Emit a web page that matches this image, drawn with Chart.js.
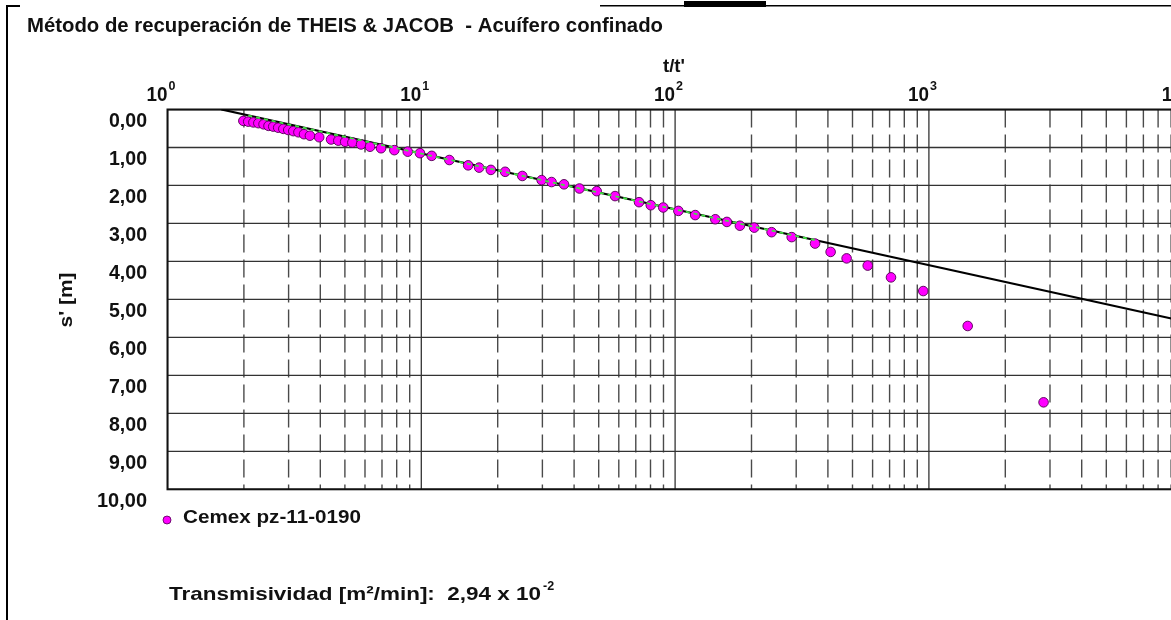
<!DOCTYPE html>
<html><head><meta charset="utf-8">
<script src="https://cdn.jsdelivr.net/npm/chart.js@4.4.1/dist/chart.umd.min.js"></script>
<style>
html,body{margin:0;padding:0;background:#fff;overflow:hidden;width:1171px;height:620px}
#wrap{position:absolute;left:0;top:0;width:1200px;height:620px}
</style></head>
<body><div id="wrap"><canvas id="c" width="1200" height="620"></canvas></div>
<script>
const chartTitle = "Método de recuperación de THEIS & JACOB  - Acuífero confinado";
const xAxisTitle = "t/t'";
const yAxisTitle = "s' [m]";
const seriesName = "Cemex pz-11-0190";
const transLabel = "Transmisividad [m²/min]:  2,94 x 10";
const transExp = "-2";

// observed recovery data
const tRatio = [1.99,2.08,2.18,2.28,2.39,2.50,2.61,2.73,2.86,2.99,3.13,3.28,3.45,3.64,3.96,4.41,4.71,5.01,5.35,5.79,6.28,6.94,7.83,8.84,9.88,10.99,12.9,15.3,16.9,18.8,21.4,25.0,29.8,32.6,36.5,42.0,49.1,58.0,72.1,80.2,89.8,103,120,144,160,180,205,240,288,356,410,474,574,709,950,1422,2830];
const drawdown = [0.30,0.32,0.34,0.36,0.39,0.43,0.45,0.48,0.51,0.54,0.57,0.60,0.65,0.69,0.73,0.79,0.82,0.85,0.87,0.92,0.98,1.02,1.07,1.11,1.15,1.22,1.33,1.47,1.53,1.59,1.64,1.75,1.86,1.91,1.97,2.08,2.15,2.28,2.44,2.52,2.58,2.67,2.78,2.89,2.96,3.06,3.11,3.23,3.36,3.53,3.75,3.92,4.11,4.42,4.78,5.70,7.71];

// straight-line fit (Jacob) and fitted range
const fitT = [1.63, 10000];
const fitS = [0, 5.57];
const fitRangeT = [2.08, 356];
const fitRangeS = [0.16, 3.44];

// axes
const xDecades = [1, 10, 100, 1000, 10000];
const xDecadeExp = ['0', '1', '2', '3', '4'];
const minorMultipliers = [2, 3, 4, 5, 6, 7, 8, 9];
const yTicks = [0,1,2,3,4,5,6,7,8,9,10];
const yTickLabels = ['0,00','1,00','2,00','3,00','4,00','5,00','6,00','7,00','8,00','9,00','10,00'];

const FONT = '"Liberation Sans", Arial, sans-serif';
function drawText(ctx, txt, x, y, size, targetW, align) {
  ctx.font = 'bold ' + size + 'px ' + FONT;
  const w = ctx.measureText(txt).width;
  const sx = targetW ? targetW / w : 1;
  ctx.save();
  ctx.translate(x, y);
  ctx.scale(sx, 1);
  ctx.textAlign = align || 'left';
  ctx.textBaseline = 'middle';
  ctx.fillStyle = '#111';
  ctx.fillText(txt, 0, 0);
  ctx.restore();
}

const gridPlugin = {
  id: 'gridPlugin',
  beforeDatasetsDraw(chart) {
    const {ctx, chartArea: a, scales: {x, y}} = chart;
    ctx.save();
    ctx.beginPath(); ctx.rect(a.left, a.top, a.right - a.left, a.bottom - a.top); ctx.clip();
    // minor dashed verticals
    ctx.strokeStyle = '#4a4a4a'; ctx.lineWidth = 1.4;
    ctx.setLineDash([18, 7]); ctx.lineDashOffset = 0;
    xDecades.slice(0, -1).forEach(d => {
      minorMultipliers.forEach(m => {
        const px = x.getPixelForValue(d * m);
        ctx.beginPath(); ctx.moveTo(px, a.top); ctx.lineTo(px, a.bottom); ctx.stroke();
      });
    });
    ctx.setLineDash([]);
    // horizontal lines
    ctx.strokeStyle = '#333'; ctx.lineWidth = 1.3;
    yTicks.forEach(v => {
      const py = y.getPixelForValue(v);
      ctx.beginPath(); ctx.moveTo(a.left, py); ctx.lineTo(a.right, py); ctx.stroke();
    });
    // decade verticals
    ctx.strokeStyle = '#333'; ctx.lineWidth = 1.3;
    xDecades.forEach(d => {
      const px = x.getPixelForValue(d);
      ctx.beginPath(); ctx.moveTo(px, a.top); ctx.lineTo(px, a.bottom); ctx.stroke();
    });
    ctx.restore();
    // border
    ctx.save();
    ctx.strokeStyle = '#111'; ctx.lineWidth = 2;
    ctx.strokeRect(a.left, a.top, a.right - a.left, a.bottom - a.top);
    ctx.restore();
  },
  afterDraw(chart) {
    const {ctx, scales: {x, y}} = chart;
    // page frame fragments
    ctx.save();
    ctx.fillStyle = '#000';
    ctx.fillRect(6, 5, 2, 620);
    ctx.fillRect(6, 5, 14, 2);
    ctx.fillRect(600, 5, 600, 1.5);
    ctx.fillRect(684, 1, 82, 6);
    ctx.restore();
    // title
    drawText(ctx, chartTitle, 27, 26, 20, 636, 'left');
    // x axis title
    drawText(ctx, xAxisTitle, 674, 67, 19, 22, 'center');
    // decade labels
    xDecades.forEach((d, i) => {
      const px = x.getPixelForValue(d);
      drawText(ctx, '10', px, 95, 20, 21, 'right');
      drawText(ctx, xDecadeExp[i], px + 1, 87, 12.5, null, 'left');
    });
    // y tick labels
    yTicks.forEach((v, i) => {
      const py = y.getPixelForValue(v) + 12;
      drawText(ctx, yTickLabels[i], 147, py, 20, i === 10 ? 50 : 38, 'right');
    });
    // y title
    ctx.save();
    ctx.translate(67, 300);
    ctx.rotate(-Math.PI / 2);
    drawText(ctx, yAxisTitle, 0, 0, 19, 55, 'center');
    ctx.restore();
    // legend
    const ds = chart.data.datasets[1];
    ctx.save();
    ctx.beginPath(); ctx.arc(167, 520, 4, 0, Math.PI * 2);
    ctx.fillStyle = ds.backgroundColor; ctx.fill();
    ctx.lineWidth = 0.8; ctx.strokeStyle = ds.borderColor; ctx.stroke();
    ctx.restore();
    drawText(ctx, ds.label, 183, 518, 19, 178, 'left');
    // transmissivity
    drawText(ctx, transLabel, 169, 595, 19, 372, 'left');
    drawText(ctx, transExp, 543, 587, 12.5, null, 'left');
  }
};

const ctx = document.getElementById('c').getContext('2d');
new Chart(ctx, {
  type: 'scatter',
  data: {
    datasets: [
      {
        type: 'line',
        data: fitRangeT.map((t, i) => ({x: t, y: fitRangeS[i]})),
        borderColor: '#44e044', borderWidth: 1.8, borderDash: [4, 4],
        pointRadius: 0, fill: false
      },
      {
        label: seriesName,
        data: tRatio.map((t, i) => ({x: t, y: drawdown[i]})),
        backgroundColor: '#ff00ff', borderColor: '#500050', borderWidth: 0.9,
        pointRadius: 4.8
      },
      {
        type: 'line',
        data: fitT.map((t, i) => ({x: t, y: fitS[i]})),
        borderColor: '#000', borderWidth: 2.2, pointRadius: 0, fill: false
      }
    ]
  },
  options: {
    responsive: false, animation: false, devicePixelRatio: 1, events: [],
    layout: {padding: {left: 167.5, top: 109.5, right: 17.3, bottom: 130.7}},
    scales: {
      x: {type: 'logarithmic', min: 1, max: 10000, display: false},
      y: {type: 'linear', min: 0, max: 10, reverse: true, display: false}
    },
    plugins: {legend: {display: false}, tooltip: {enabled: false}}
  },
  plugins: [gridPlugin]
});
</script>
</body></html>
